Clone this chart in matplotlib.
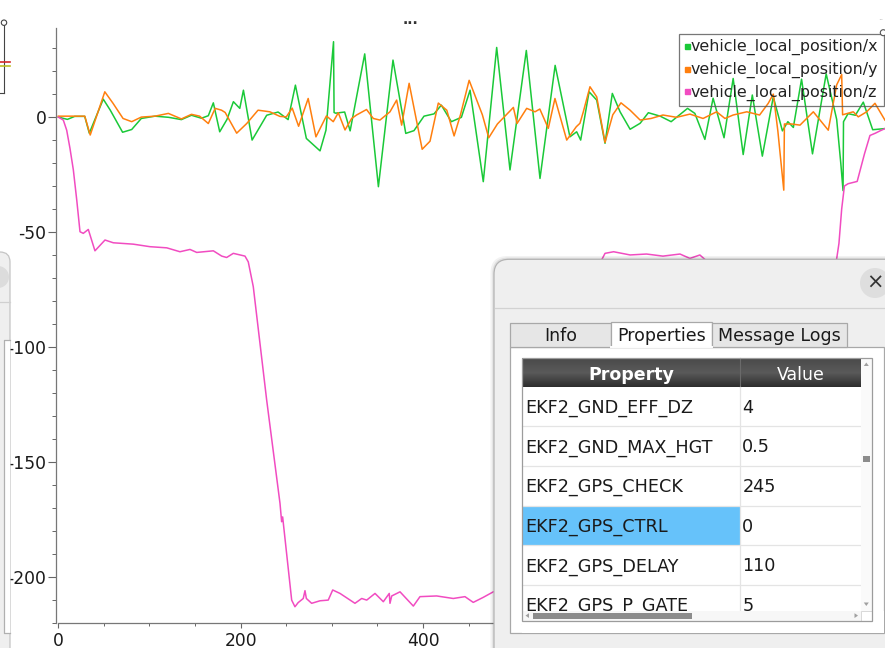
import numpy as np
import matplotlib
matplotlib.use("Agg")
import matplotlib.pyplot as plt
from matplotlib.lines import Line2D
from matplotlib.patches import Rectangle, FancyBboxPatch, Circle, Polygon
from matplotlib.colors import LinearSegmentedColormap
from matplotlib.ticker import MultipleLocator

plt.rcParams['font.family'] = ['DejaVu Sans']
plt.rcParams['axes.unicode_minus'] = False

W, H = 885, 648

# vehicle_local_position/x
x_t = [0, 10, 18, 29, 34, 49.3, 57, 70.5, 80.5, 91,
       106, 121, 135, 146, 157, 164.5, 170, 177, 185, 192,
       199, 203, 212.5, 228.5, 241, 252, 260, 272, 287, 293.5,
       301.8, 302.4, 304, 314, 320, 336, 351, 367, 381, 390,
       401, 412, 420, 431, 442, 451.5, 466, 480.7, 495.3, 513.2,
       528.2, 544.8, 561, 568.4, 572.8, 582, 590.4, 599.5, 607.5, 616,
       627, 638, 647, 660, 672, 690, 698, 709, 718, 730,
       740, 751, 761, 772, 784, 794, 800, 806, 815, 827,
       842, 853.5, 858, 860.5, 861, 866, 874, 882.7, 893, 906.5]
x_v = [0, -1, 0.3, 0.3, -7, 7.8, 3, -6.6, -5.4, -0.6,
       0.4, -0.1, -1.1, 0.8, -0.5, 0.6, 6.2, -6.4, -1, 6.7,
       3.8, 11.7, -10, 0.8, 2.2, -1.1, 13.9, -9.3, -14.7, -5.7,
       32.8, 2, 1.7, 2.2, -6, 27.5, -30.3, 24.8, -7.1, -5.9,
       0.4, 1.4, 5.2, -2, -0.1, 11.7, -28.1, 30.3, -23, 29,
       -26.7, 22.5, -8.6, -6.4, -10, 11, 7.4, -11.4, 10.3, 2.3,
       -5.3, -2.7, 1.9, 0.4, -2, 3.8, 1.6, -9.7, 8.2, -9,
       16.8, -16.3, 9.6, -17, 8.8, -6, -2, -4.5, 16.5, -16,
       18.8, -1, -20, -32, -2, 1.5, 0.8, 6.5, -5.5, -5]

# vehicle_local_position/y
y_t = [0, 29, 35, 51, 60, 71, 80.5, 91, 106, 120.7,
       135, 146, 155, 164.5, 172, 179, 183, 195.6, 206.6, 219,
       232, 243, 250, 256.5, 263.5, 274, 282.5, 294, 301.5, 307,
       314.4, 321.7, 327, 338, 345.4, 352.7, 363.7, 371, 376.5, 384.7,
       399, 407.6, 416.7, 426, 434, 441, 450.5, 465, 472, 481.5,
       499, 503, 513.6, 522.7, 528, 537.3, 544.6, 557.5, 568, 572,
       575.7, 583, 590.4, 599.5, 608, 617, 627, 638, 650, 663,
       678, 692.6, 707, 721.9, 731, 740, 755, 769, 778.5, 784,
       789, 795.5, 796.2, 804, 813.3, 827.9, 844.3, 853.5, 859, 860,
       871.7, 877.2, 886.4, 895.5, 906.4]
y_v = [0.4, 0.4, -7.8, 11, 6, -0.6, -2, 0, 0.4, 1.6,
       -0.8, 1.2, 0.4, -2.8, 3.8, 3, 2, -7, -2.8, 3,
       2.3, 0.3, 0.1, 3.9, -4, 8.1, -8.6, 0.5, -2, 1.9,
       -5.6, -0.6, 0.9, 3.3, -0.6, -1.3, 2.3, 7.4, -3.5, 14.7,
       -14, -10.5, 6.1, 3, -8.2, 1, 16, 1, -9, -3,
       4.2, -2.8, 3.8, 2.3, 3.5, -4.9, 8.1, -10, -4.2, -2.7,
       2.3, 13.2, 8.8, -11, 1, 6.2, 3, -1.3, -0.6, 0.9,
       -0.1, 1.3, -0.6, 2.3, -0.6, 0.9, 2.3, 0.9, 6, 10,
       -6, -31.8, -3, -3, -3.5, 2.3, -5.7, 14, 18.5, 1,
       2.3, 0.1, 2.3, 6, -1.3]

# vehicle_local_position/z
z_t = [0, 5.5, 9.2, 12.8, 16.5, 20.2, 23.8, 27.4, 32.9, 40.2,
       51.2, 60.3, 82.2, 100.5, 118.9, 133.4, 144.4, 151.8, 170, 179.2,
       184.6, 191.9, 204.7, 208.3, 213.8, 228.5, 243.1, 244.9, 246, 255.9,
       259.5, 263, 268.6, 270.5, 272, 277.8, 287, 296, 300.9, 308.9,
       325.3, 332.7, 338.2, 347.3, 356.4, 362.9, 363.7, 365.6, 374.7, 389.3,
       396.6, 414.9, 433.1, 445.9, 455, 466, 477, 500, 560, 596,
       599.5, 608.9, 627, 645, 663, 681.7, 692.6, 703.5, 712, 760,
       853, 856, 859, 862, 866, 876, 880, 884, 890, 896,
       901, 906.5]
z_v = [0, -1.3, -5.7, -13.6, -23, -36, -49.9, -50.6, -48.9, -58.2,
       -53.5, -54.7, -55.3, -56.4, -56.9, -58.6, -57.6, -58.9, -58.2, -60.5,
       -61.1, -59.3, -60.5, -63, -73.8, -123.2, -168.1, -176.1, -174, -210.2,
       -213.1, -211.3, -209.5, -206.1, -209.5, -211.6, -210.5, -210.2, -205.8, -207.3,
       -211.6, -209.5, -210.2, -207.3, -210.9, -207.3, -211.6, -208.4, -206.6, -212.8,
       -208.7, -208.4, -209.5, -208.7, -211.2, -209, -206.6, -205, -150, -62,
       -59.3, -58.6, -60, -59.6, -60.5, -59.6, -61.5, -60, -63, -64,
       -63, -55, -40, -30, -29, -28, -22, -16, -8, -7,
       -6, -5]

series_names = ["vehicle_local_position/x", "vehicle_local_position/y",
                "vehicle_local_position/z"]
series_colors = ["#1ac938", "#ff7f0e", "#f14cc1"]

tab_names = ["Info", "Properties", "Message Logs"]
table_header = ["Property", "Value"]
table_props = ["EKF2_GND_EFF_DZ", "EKF2_GND_MAX_HGT", "EKF2_GPS_CHECK",
               "EKF2_GPS_CTRL", "EKF2_GPS_DELAY", "EKF2_GPS_P_GATE"]
table_vals = ["4", "0.5", "245", "0", "110", "5"]
selected_row = 3

fig = plt.figure(figsize=(W / 100, H / 100), dpi=100)
fig.patch.set_facecolor("white")

ax = fig.add_axes([55.7 / W, (H - 623.3) / H, (W - 55.7) / W, (623.3 - 27.7) / H])
for t, v, c in zip([x_t, y_t, z_t], [x_v, y_v, z_v], series_colors):
    ax.plot(t, v, color=c, lw=1.1)
ax.set_xlim(-2.85, 906.5)
ax.set_ylim(-220.3, 38.9)
ax.xaxis.set_major_locator(MultipleLocator(200))
ax.xaxis.set_minor_locator(MultipleLocator(50))
ax.yaxis.set_major_locator(MultipleLocator(50))
ax.yaxis.set_minor_locator(MultipleLocator(10))
ax.spines[['top', 'right']].set_visible(False)
for s in ['left', 'bottom']:
    ax.spines[s].set_color('#777777')
    ax.spines[s].set_linewidth(0.9)
ax.spines['bottom'].set_bounds(0, 906.5)
ax.tick_params(axis='y', which='major', length=5.5, width=0.8, color='#666666',
               pad=1.2, labelsize=12.3, labelcolor='#1a1a1a')
ax.tick_params(axis='y', which='minor', length=2.9, width=0.7, color='#666666')
ax.tick_params(axis='x', which='major', length=3.6, width=0.8, color='#666666',
               pad=2.5, labelsize=12.3, labelcolor='#1a1a1a')
ax.tick_params(axis='x', which='minor', length=2, width=0.7, color='#666666')

handles = [Line2D([], [], marker='s', ls='none', color=c, markersize=3.6) for c in series_colors]
leg = ax.legend(handles, series_names, loc='upper right',
                bbox_to_anchor=(883.5 / W, 1 - 34 / H), bbox_transform=fig.transFigure,
                borderaxespad=0, fontsize=11.4, handlelength=0.35, handletextpad=0.05,
                borderpad=0.33, labelspacing=0.42, fancybox=False, frameon=True)
leg.get_frame().set_facecolor('none')
leg.get_frame().set_edgecolor('#555555')
leg.get_frame().set_linewidth(0.9)
for txt in leg.get_texts():
    txt.set_color('#222222')

# overlay in pixel coordinates (other windows partly covering the plot)
ov = fig.add_axes([0, 0, 1, 1], zorder=10)
ov.axis('off')
ov.patch.set_visible(False)

ov.text(411, 20, "...", fontsize=10, fontweight='bold', color='#333333', ha='center', va='center')
ov.text(881, 18, "..", fontsize=6, color='#aaaaaa', ha='center', va='center')
ov.add_patch(Circle((883.3, 32.7), 3, fc='white', ec='#555555', lw=0.8))

# piece of another plot at top-left
ov.plot([4, 4], [22.7, 93.3], color='#444444', lw=0.8)
ov.plot([0, 4], [93.3, 93.3], color='#444444', lw=0.8)
ov.add_patch(Circle((4, 22.7), 2.7, fc='white', ec='#444444', lw=0.8, zorder=3))
ov.plot([0, 10], [61.7, 61.7], color='#d62728', lw=1.2)
ov.plot([0, 10], [65.7, 65.7], color='#bcbd22', lw=1.2)

# another dialog at the left edge
ov.add_patch(FancyBboxPatch((-30, 252), 40, 420, boxstyle="round,pad=0,rounding_size=10",
                            fc='#efefef', ec='#c4c4c4', lw=0.9, zorder=2))
ov.add_patch(Circle((-2, 277), 11, fc='#dcdcdc', ec='none', zorder=3))
ov.plot([0, 10], [302, 302], color='#d0d0d0', lw=0.9, zorder=3)
ov.add_patch(Rectangle((4, 340), 5.5, 293, fc='white', ec='none', zorder=3))
ov.plot([9.5, 4, 4, 9.5], [340, 340, 633, 633], color='#b0b0b0', lw=0.9, zorder=3)

# main dialog
ov.add_patch(FancyBboxPatch((490.5, 256), 420, 420, boxstyle="round,pad=0,rounding_size=17",
                            fc='black', ec='none', alpha=0.05, zorder=1))
ov.add_patch(FancyBboxPatch((492.3, 257.5), 420, 420, boxstyle="round,pad=0,rounding_size=16",
                            fc='black', ec='none', alpha=0.07, zorder=1))
ov.add_patch(FancyBboxPatch((494, 259.3), 420, 420, boxstyle="round,pad=0,rounding_size=15",
                            fc='#efefef', ec='#b4b4b4', lw=0.9, zorder=2))
ov.plot([494.5, W], [308.3, 308.3], color='#d2d2d2', lw=0.9, zorder=3)
ov.add_patch(Circle((875, 283), 15, fc='#dedede', ec='none', zorder=3))
ov.text(875, 283, "\u00d7", fontsize=15, color='#333333', ha='center', va='center', zorder=4)

# tabs and pane
ov.add_patch(Rectangle((510, 346.7), 374.3, 286.6, fc='white', ec='#a8a8a8', lw=0.9, zorder=3))
tab_x = [510, 610.7, 712.3, 846.7]
for i, name in enumerate(tab_names):
    x0, x1 = tab_x[i], tab_x[i + 1]
    if i == 1:
        ov.add_patch(Rectangle((x0, 322), x1 - x0, 25.2, fc='white', ec='#a8a8a8', lw=0.9, zorder=3))
        ov.plot([x0 + 0.6, x1 - 0.6], [346.9, 346.9], color='white', lw=1.4, zorder=3.1)
    else:
        ov.add_patch(Rectangle((x0, 323.3), x1 - x0, 23.4, fc='#e6e6e6', ec='#a8a8a8', lw=0.9, zorder=3))
    ov.text((x0 + x1) / 2, 341.3, name, fontsize=12.5, color='#1a1a1a', ha='center', va='baseline', zorder=4)

# property table
tx0, tx1, tcol, tsb = 522.3, 871.7, 740, 861
ty0, thead, ty1 = 358.3, 386.7, 621
row_h = 39.6
ov.add_patch(Rectangle((tx0, ty0), tx1 - tx0, ty1 - ty0, fc='white', ec='none', zorder=3.2))
hdr = LinearSegmentedColormap.from_list('hdr', ['#4a4a4a', '#5a5a5a', '#2e2e2e'])
ov.imshow(np.linspace(0, 1, 40).reshape(-1, 1), extent=(tx0, tsb, thead, ty0), cmap=hdr,
          aspect='auto', origin='upper', zorder=3.3)
ov.plot([tcol, tcol], [ty0, thead], color='#6a6a6a', lw=0.8, zorder=3.4)
ov.text((tx0 + tcol) / 2, 379.6, table_header[0], fontsize=12.5, fontweight='bold', color='white',
        ha='center', va='baseline', zorder=4)
ov.text((tcol + tsb) / 2, 379.6, table_header[1], fontsize=12.5, color='white',
        ha='center', va='baseline', zorder=4)
for i, (p, v) in enumerate(zip(table_props, table_vals)):
    r0 = thead + i * row_h
    if i == selected_row:
        ov.add_patch(Rectangle((tx0, r0), tcol - tx0, row_h, fc='#66c2fa', ec='none', zorder=3.4))
    ov.plot([tx0, tsb], [r0 + row_h, r0 + row_h], color='#e4e4e4', lw=0.9, zorder=3.5)
    ov.text(525.7, r0 + row_h / 2 + 6.4, p, fontsize=12.7, color='#1a1a1a', ha='left', va='baseline', zorder=4)
    ov.text(742.3, r0 + row_h / 2 + 6.4, v, fontsize=12.7, color='#1a1a1a', ha='left', va='baseline', zorder=4)
ov.plot([tcol, tcol], [thead, 611], color='#e4e4e4', lw=0.9, zorder=3.5)

# cover clipped last row, then scrollbars
ov.add_patch(Rectangle((tx0, 611), tx1 - tx0 + 12, 22, fc='white', ec='none', zorder=5))
ov.add_patch(Rectangle((tsb, ty0), tx1 - tsb, 611 - ty0, fc='#fafafa', ec='none', zorder=5))
ov.add_patch(Rectangle((tx0, 611), tsb - tx0, 10, fc='#f7f7f7', ec='none', zorder=5))
ov.add_patch(Rectangle((533, 612.7), 158.7, 5.8, fc='#8c8c8c', ec='none', zorder=6))
ov.add_patch(Rectangle((862.7, 456), 7.3, 6, fc='#8c8c8c', ec='none', zorder=6))
ov.add_patch(Polygon([[525.5, 615.6], [529, 613.2], [529, 618]], fc='#a0a0a0', ec='none', zorder=6))
ov.add_patch(Polygon([[858, 615.6], [854.5, 613.2], [854.5, 618]], fc='#a0a0a0', ec='none', zorder=6))
ov.add_patch(Polygon([[866.3, 362.5], [863.8, 366], [868.8, 366]], fc='#a0a0a0', ec='none', zorder=6))
ov.add_patch(Polygon([[866.3, 606], [863.8, 602.5], [868.8, 602.5]], fc='#a0a0a0', ec='none', zorder=6))
ov.add_patch(Rectangle((tsb, 611), tx1 - tsb, 10, fc='white', ec='#d8d8d8', lw=0.7, zorder=6))
ov.add_patch(Rectangle((tx0, ty0), tx1 - tx0, ty1 - ty0, fc='none', ec='#9c9c9c', lw=0.9, zorder=6))

ov.set_xlim(0, W)
ov.set_ylim(H, 0)

fig.savefig("out.png", dpi=100)
